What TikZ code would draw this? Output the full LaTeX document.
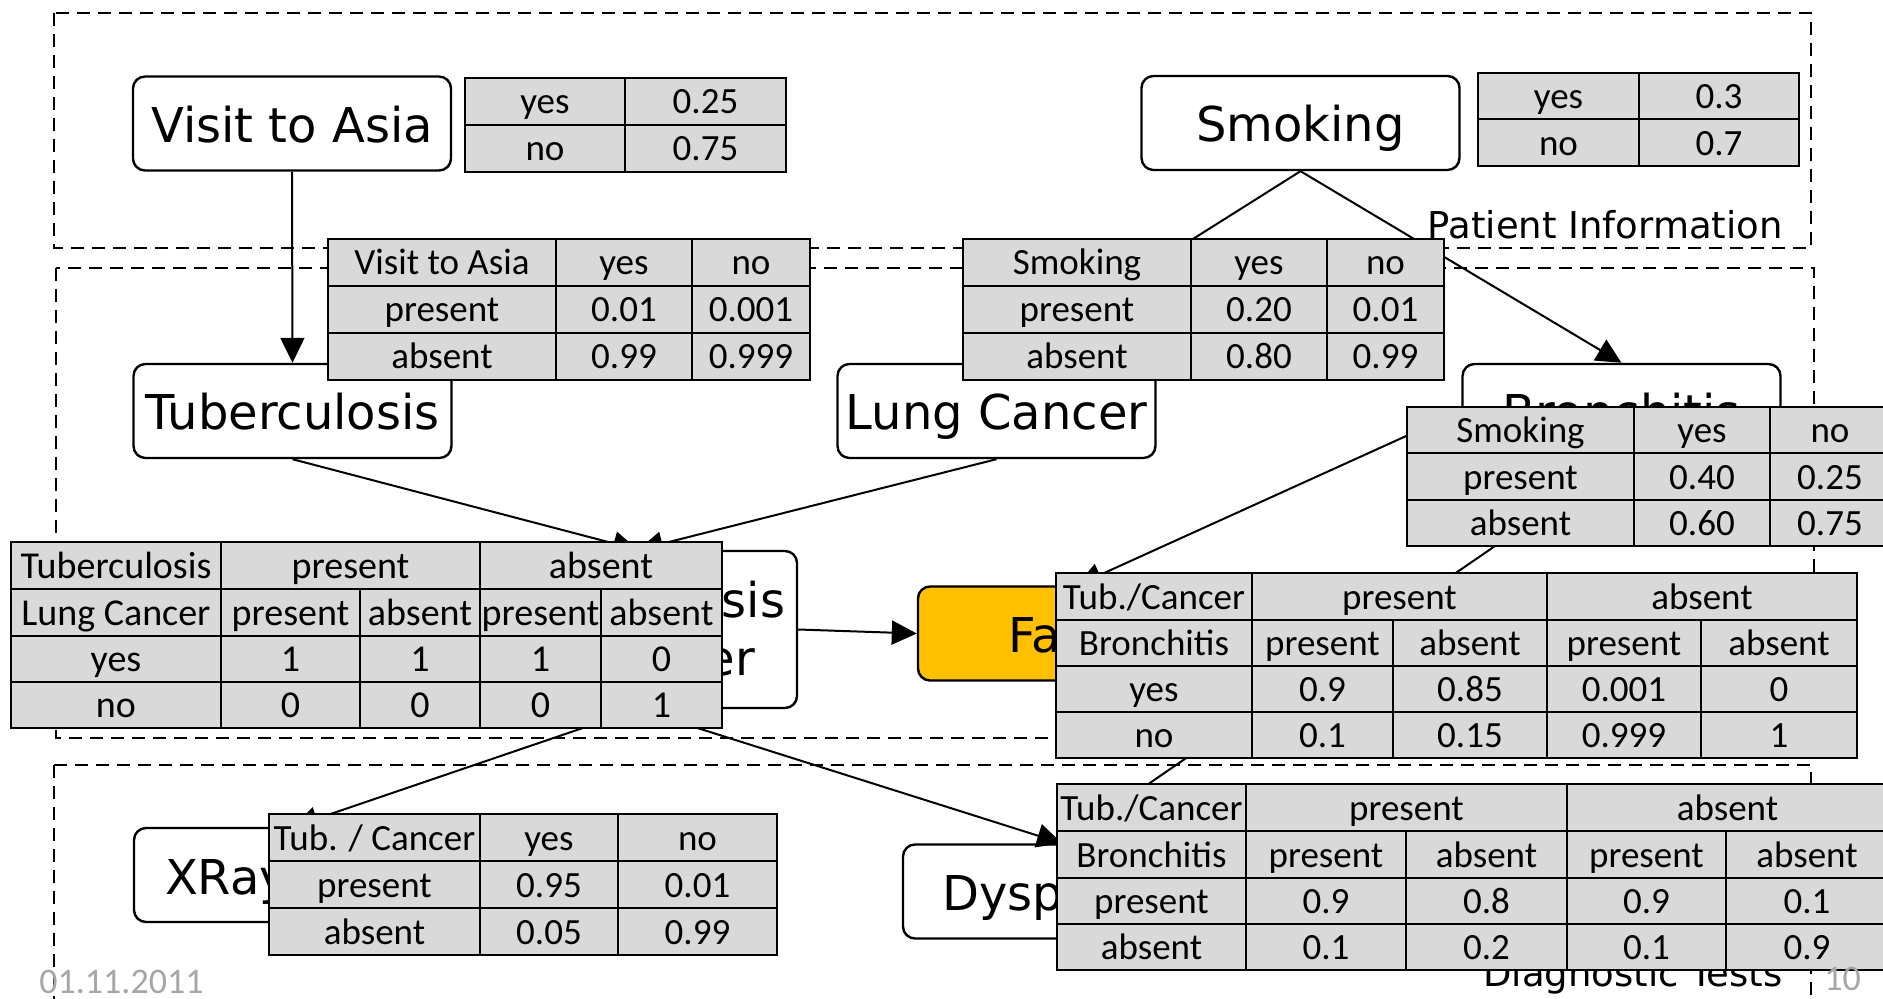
\documentclass[tikz,border=0pt]{standalone}
\usepackage{fontspec}
\setmainfont{DejaVu Sans}
\newfontfamily\calib{Carlito}
\usetikzlibrary{arrows.meta}
\definecolor{cellgray}{HTML}{D9D9D9}
\definecolor{gold}{HTML}{FFC000}
\definecolor{footgray}{HTML}{A6A6A6}
\newcounter{cellno}
% one table cell: x1 y1 x2 y2 text (pixel coordinates)
\newcommand\tcell[5]{\stepcounter{cellno}%
  \node[cell, minimum width={(#3-#1)*0.5pt}, minimum height={(#4-#2)*0.5pt}]
    (cell\arabic{cellno}) at ({(#1+#3)/2},{(#2+#4)/2}) {#5};}
\tikzset{
  region/.style={line width=1.1pt, dash pattern=on 6.5pt off 4pt},
  gnode/.style={draw, line width=1.2pt, rounded corners=6pt, fill=white,
    inner sep=0pt, minimum width=159pt, minimum height=47pt,
    text height=19pt, text depth=0pt, font=\fontsize{24}{29}\selectfont},
  cell/.style={draw, line width=1pt, fill=cellgray, inner sep=0pt,
    text height=12.5pt, text depth=0pt, font=\calib\fontsize{18.5}{22}\selectfont},
  conn/.style={line width=1pt, -{Triangle[length=12.5pt,width=12pt]}},
  framelabel/.style={anchor=base east, inner sep=0pt, font=\fontsize{18.5}{22}\selectfont},
  foot/.style={anchor=base west, inner sep=0pt, text=footgray, font=\calib\fontsize{18}{22}\selectfont}
}
\begin{document}
\begin{tikzpicture}[x=0.5pt,y=-0.5pt]
\useasboundingbox (0,0) rectangle (1883,999);

% dashed frames of the three layers
\draw[region] (54,13) rectangle (1811,248);
\draw[region] (56,268) rectangle (1814,738);
\draw[region] (54,765) rectangle (1811,1020);
\node[framelabel] (lblpatient) at (1783,239) {Patient Information};
\node[framelabel] (lbldiag) at (1783,986) {Diagnostic Tests};

% network nodes
\node[gnode] (visit) at (292,123.5) {Visit to Asia};
\node[gnode] (smoking) at (1300.5,123) {Smoking};
\node[gnode] (tub) at (292.5,411) {Tuberculosis};
\node[gnode] (lc) at (996.5,411) {Lung Cancer};
\node[gnode] (bron) at (1621.5,411) {Bronchitis};
\node[gnode, minimum height=78.5pt, text width=159pt, align=center, text depth=31.5pt]
  (toc) at (638,629.5) {Tuberculosis\\or Cancer};
\node[gnode, fill=gold, inner xsep=45pt, text width=69pt, align=left] (fat) at (1077,633.5) {Fa};
\node[gnode, inner xsep=15.5pt, text width=128pt, align=left] (xray) at (293,875) {XRay};
\node[gnode] (dysp) at (1062,891.5) {Dyspnoea};

% dependencies
\draw[conn] (visit.south) -- (tub.north);
\draw[conn] (smoking.south) -- (lc.north);
\draw[conn] (smoking.south) -- (bron.north);
\draw[conn] (tub.south) -- (toc.north);
\draw[conn] (lc.south) -- (toc.north);
\draw[conn] (bron.west) -- (fat.north);
\draw[conn] (toc.east) -- (fat.west);
\draw[conn] (toc.south) -- (xray.north);
\draw[conn] (toc.south) -- (dysp.north);
\draw[conn] (bron.south) -- (dysp.north);

% prior of Visit to Asia
\tcell{465}{78}{625}{125}{yes} \tcell{625}{78}{786}{125}{0.25}
\tcell{465}{125}{625}{172}{no} \tcell{625}{125}{786}{172}{0.75}

% prior of Smoking
\tcell{1478}{73}{1639}{119.5}{yes} \tcell{1639}{73}{1799}{119.5}{0.3}
\tcell{1478}{119.5}{1639}{166}{no} \tcell{1639}{119.5}{1799}{166}{0.7}

% Tuberculosis given Visit to Asia
\tcell{328}{239}{556}{286}{Visit to Asia} \tcell{556}{239}{692}{286}{yes} \tcell{692}{239}{810}{286}{no}
\tcell{328}{286}{556}{333}{present} \tcell{556}{286}{692}{333}{0.01} \tcell{692}{286}{810}{333}{0.001}
\tcell{328}{333}{556}{380}{absent} \tcell{556}{333}{692}{380}{0.99} \tcell{692}{333}{810}{380}{0.999}

% Lung Cancer given Smoking
\tcell{963}{239}{1191}{286}{Smoking} \tcell{1191}{239}{1327}{286}{yes} \tcell{1327}{239}{1444}{286}{no}
\tcell{963}{286}{1191}{333}{present} \tcell{1191}{286}{1327}{333}{0.20} \tcell{1327}{286}{1444}{333}{0.01}
\tcell{963}{333}{1191}{380}{absent} \tcell{1191}{333}{1327}{380}{0.80} \tcell{1327}{333}{1444}{380}{0.99}

% Bronchitis given Smoking
\tcell{1407}{407}{1634}{453}{Smoking} \tcell{1634}{407}{1770}{453}{yes} \tcell{1770}{407}{1890}{453}{no}
\tcell{1407}{453}{1634}{500}{present} \tcell{1634}{453}{1770}{500}{0.40} \tcell{1770}{453}{1890}{500}{0.25}
\tcell{1407}{500}{1634}{546}{absent} \tcell{1634}{500}{1770}{546}{0.60} \tcell{1770}{500}{1890}{546}{0.75}

% Tuberculosis or Cancer given Tuberculosis and Lung Cancer
\begin{scope}[cell/.append style={font=\calib\fontsize{19}{23}\selectfont}]
\tcell{11}{542}{221}{589}{Tuberculosis} \tcell{221}{542}{480}{589}{present} \tcell{480}{542}{722}{589}{absent}
\tcell{11}{589}{221}{636}{Lung Cancer} \tcell{221}{589}{360}{636}{present} \tcell{360}{589}{480}{636}{absent}
\tcell{480}{589}{601}{636}{present} \tcell{601}{589}{722}{636}{absent}
\tcell{11}{636}{221}{682}{yes} \tcell{221}{636}{360}{682}{1} \tcell{360}{636}{480}{682}{1}
\tcell{480}{636}{601}{682}{1} \tcell{601}{636}{722}{682}{0}
\tcell{11}{682}{221}{728}{no} \tcell{221}{682}{360}{728}{0} \tcell{360}{682}{480}{728}{0}
\tcell{480}{682}{601}{728}{0} \tcell{601}{682}{722}{728}{1}
\end{scope}

% table of the highlighted node
\tcell{1056}{573}{1252}{620}{Tub./Cancer} \tcell{1252}{573}{1547}{620}{present} \tcell{1547}{573}{1857}{620}{absent}
\tcell{1056}{620}{1252}{666}{Bronchitis} \tcell{1252}{620}{1393}{666}{present} \tcell{1393}{620}{1547}{666}{absent}
\tcell{1547}{620}{1701}{666}{present} \tcell{1701}{620}{1857}{666}{absent}
\tcell{1056}{666}{1252}{712}{yes} \tcell{1252}{666}{1393}{712}{0.9} \tcell{1393}{666}{1547}{712}{0.85}
\tcell{1547}{666}{1701}{712}{0.001} \tcell{1701}{666}{1857}{712}{0}
\tcell{1056}{712}{1252}{758}{no} \tcell{1252}{712}{1393}{758}{0.1} \tcell{1393}{712}{1547}{758}{0.15}
\tcell{1547}{712}{1701}{758}{0.999} \tcell{1701}{712}{1857}{758}{1}

% XRay given Tuberculosis or Cancer
\tcell{269}{814}{480}{861}{Tub. / Cancer} \tcell{480}{814}{618}{861}{yes} \tcell{618}{814}{777}{861}{no}
\tcell{269}{861}{480}{908}{present} \tcell{480}{861}{618}{908}{0.95} \tcell{618}{861}{777}{908}{0.01}
\tcell{269}{908}{480}{955}{absent} \tcell{480}{908}{618}{955}{0.05} \tcell{618}{908}{777}{955}{0.99}

% Dyspnoea given Tuberculosis or Cancer and Bronchitis
\tcell{1057}{784}{1246}{831}{Tub./Cancer} \tcell{1246}{784}{1567}{831}{present} \tcell{1567}{784}{1888}{831}{absent}
\tcell{1057}{831}{1246}{878}{Bronchitis} \tcell{1246}{831}{1406}{878}{present} \tcell{1406}{831}{1567}{878}{absent}
\tcell{1567}{831}{1726}{878}{present} \tcell{1726}{831}{1888}{878}{absent}
\tcell{1057}{878}{1246}{924}{present} \tcell{1246}{878}{1406}{924}{0.9} \tcell{1406}{878}{1567}{924}{0.8}
\tcell{1567}{878}{1726}{924}{0.9} \tcell{1726}{878}{1888}{924}{0.1}
\tcell{1057}{924}{1246}{970}{absent} \tcell{1246}{924}{1406}{970}{0.1} \tcell{1406}{924}{1567}{970}{0.2}
\tcell{1567}{924}{1726}{970}{0.1} \tcell{1726}{924}{1888}{970}{0.9}

% slide footer
\node[foot] (date) at (39,993) {01.11.2011};
\node[foot] (page) at (1824,990) {10};
\end{tikzpicture}
\end{document}
